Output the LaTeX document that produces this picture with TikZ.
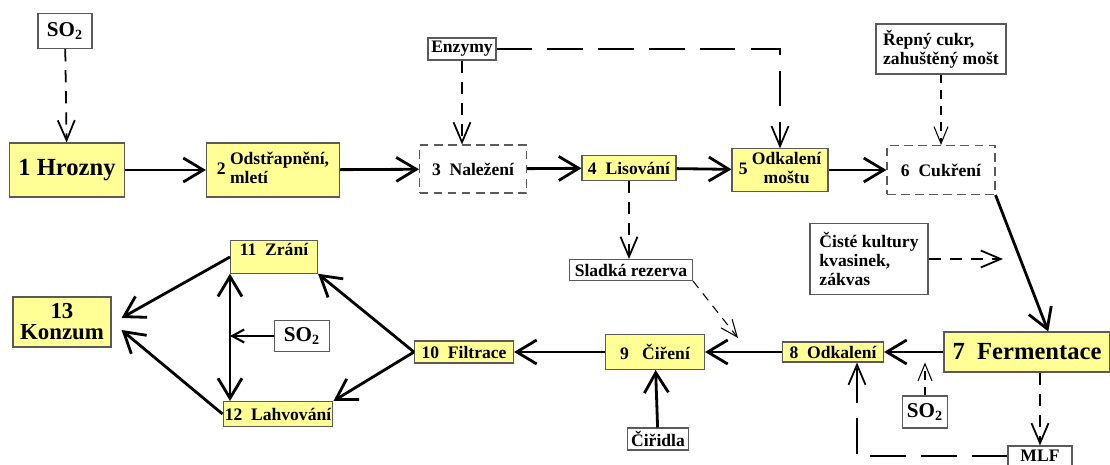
\documentclass[tikz,border=0pt]{standalone}
\usepackage{fontspec}
\setmainfont{Liberation Serif}
\usetikzlibrary{arrows.meta}

\definecolor{stageyellow}{RGB}{255,255,150}
\definecolor{boxline}{RGB}{90,90,90}

\tikzset{
  stage/.style={draw=boxline, line width=0.6pt, fill=stageyellow, inner sep=1pt,
    font=\bfseries\fontsize{10}{11}\selectfont},
  additive/.style={draw=boxline, line width=0.6pt, fill=white, inner sep=1pt,
    font=\bfseries\fontsize{10}{11}\selectfont},
  optional/.style={draw=boxline, line width=0.6pt, dash pattern=on 5pt off 3pt, inner sep=1pt,
    font=\bfseries\fontsize{10}{11}\selectfont},
  bigtext/.style={font=\bfseries\fontsize{14}{15}\selectfont},
  so2text/.style={font=\bfseries\fontsize{12}{13}\selectfont},
  flow/.style={line width=1.6pt, -{Straight Barb[length=0.4cm, width=0.48cm]}},
  smallflow/.style={line width=1.2pt, -{Straight Barb[length=0.24cm, width=0.26cm]}},
  feed/.style={line width=1pt, dash pattern=on 7pt off 5pt,
    -{Straight Barb[length=0.4cm, width=0.34cm]}},
  thinfeed/.style={line width=0.6pt, dash pattern=on 5pt off 4pt,
    -{Straight Barb[length=0.34cm, width=0.28cm]}},
  longdash/.style={dash pattern=on 20pt off 9pt}
}

\begin{document}
\begin{tikzpicture}[x=0.02cm, y=-0.02cm]
  \useasboundingbox (0,0) rectangle (1110,465);

  % Top row: grapes to must
  \node[additive, so2text, minimum width=1.08cm, minimum height=0.7cm] (so2top) at (65,31) {SO\textsubscript{2}};
  \node[stage, bigtext, minimum width=2.3cm, minimum height=1.08cm] (hrozny) at (67,170) {1 Hrozny};
  \node[stage, minimum width=2.66cm, minimum height=1.08cm] (odstr) at (273,170)
    {2 \begin{tabular}{@{}l@{}}Odstřapnění,\\mletí\end{tabular}};
  \node[additive, minimum width=1.36cm, minimum height=0.44cm] (enzymy) at (462,49) {Enzymy};
  \node[optional, minimum width=2.14cm, minimum height=0.96cm] (nalez) at (473,169) {3~~Naležení};
  \node[stage, minimum width=1.88cm, minimum height=0.5cm] (lis) at (629,168) {4~~Lisování};
  \node[stage, minimum width=1.92cm, minimum height=0.8cm] (mostu) at (780,170)
    {5 \begin{tabular}{@{}c@{}}Odkalení\\moštu\end{tabular}};
  \node[additive, minimum width=2.6cm, minimum height=1cm, align=left] (repny) at (941,49)
    {Řepný cukr,\\zahuštěný mošt};
  \node[optional, minimum width=2.16cm, minimum height=0.98cm] (cukr) at (941,170) {6~~Cukření};

  % Fermentation and clarification
  \node[additive, minimum width=2.36cm, minimum height=1.42cm, align=left] (kultury) at (869,259)
    {Čisté kultury\\kvasinek,\\zákvas};
  \node[stage, bigtext, minimum width=3.32cm, minimum height=0.8cm] (ferment) at (1027,352) {7~~Fermentace};
  \node[stage, minimum width=2.02cm, minimum height=0.4cm] (odkal) at (833,352) {8~~Odkalení};
  \node[additive, so2text, minimum width=0.9cm, minimum height=0.64cm] (so2mid) at (925,412) {SO\textsubscript{2}};
  \node[additive, minimum width=1.28cm, minimum height=0.4cm] (mlf) at (1040,456) {MLF};
  \node[additive, minimum width=2.46cm, minimum height=0.42cm] (rezerva) at (631,270) {Sladká rezerva};
  \node[stage, minimum width=1.98cm, minimum height=0.7cm] (cireni) at (655,352) {9~~~Čiření};
  \node[additive, minimum width=1.22cm, minimum height=0.44cm] (ciridla) at (658,439) {Čiřidla};

  % Bottling
  \node[stage, minimum width=1.98cm, minimum height=0.44cm] (filtrace) at (464,352) {10~~Filtrace};
  \node[additive, so2text, minimum width=1.1cm, minimum height=0.62cm] (so2low) at (302,336) {SO\textsubscript{2}};
  \node[stage, minimum width=1.74cm, text depth=0.3cm, inner ysep=1.5pt] (zrani) at (274,257) {11~~Zrání};
  \node[stage, minimum width=1.82cm, minimum height=0.5cm] (lahev) at (278,414) {12~~Lahvování};
  \node[stage, font=\bfseries\fontsize{13}{12}\selectfont, minimum width=1.96cm, minimum height=1cm,
    align=center] (konzum) at (62,322) {13\\Konzum};

  \coordinate (yeastin) at (1003,259);
  \coordinate (sweetin) at (738,338);

  % Main flow
  \draw[flow] (hrozny) -- (odstr);
  \draw[flow] (odstr) -- (nalez);
  \draw[flow] (nalez) -- (lis);
  \draw[flow] (lis) -- (mostu);
  \draw[flow] (mostu) -- (cukr);
  \draw[flow] (cukr.south east) -- (ferment.44);
  \draw[flow] (ferment) -- (odkal);
  \draw[flow] (odkal) -- (cireni);
  \draw[flow] (ciridla) -- (cireni);
  \draw[flow] (cireni) -- (filtrace);
  \draw[flow] (filtrace.west) -- (zrani.south east);
  \draw[flow] (filtrace.west) -- (lahev.north east);
  \draw[flow, {Straight Barb[length=0.4cm, width=0.48cm]}-{Straight Barb[length=0.4cm, width=0.48cm]}]
    (zrani.south west) -- (zrani.south west |- lahev.north);
  \draw[smallflow] (so2low) -- (so2low -| zrani.south west);
  \draw[flow] (zrani.west) -- ([xshift=0.2cm, yshift=0.08cm]konzum.east);
  \draw[flow] (lahev.west) -- ([xshift=0.2cm, yshift=-0.16cm]konzum.east);

  % Additions
  \draw[feed] (so2top) -- (hrozny);
  \draw[feed] (enzymy) -- (enzymy |- nalez.north);
  \draw[feed, longdash] (enzymy) -| (mostu);
  \draw[thinfeed] (repny) -- (cukr);
  \draw[feed] (kultury) -- (yeastin);
  \draw[feed] (lis) -- (lis |- rezerva.north);
  \draw[thinfeed] (rezerva.south east) -- (sweetin);
  \draw[thinfeed] (so2mid) -- (so2mid |- odkal.south);
  \draw[feed] (ferment.south -| mlf) -- (mlf);
  \draw[feed, longdash] (mlf) -| ([xshift=0.48cm]odkal.south);
\end{tikzpicture}
\end{document}
